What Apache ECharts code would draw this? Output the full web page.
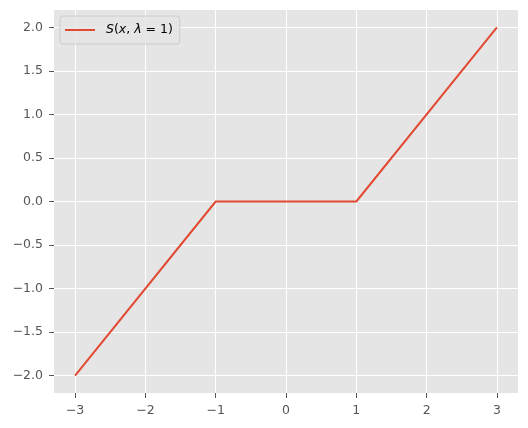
<!DOCTYPE html>
<html>
<head>
<meta charset="utf-8">
<script src="https://cdn.jsdelivr.net/npm/echarts@6/dist/echarts.min.js"></script>
<style>html,body{margin:0;padding:0;background:#fff;}#c{width:528px;height:428px;}</style>
</head>
<body>
<div id="c"></div>
<script>
const xValues = [-3, -1, 1, 3];
const yValues = [-2, 0, 0, 2];
const xTicks = [-3, -2, -1, 0, 1, 2, 3];
const yTicks = [-2.0, -1.5, -1.0, -0.5, 0.0, 0.5, 1.0, 1.5, 2.0];
const seriesName = 'S(x, λ = 1)';

const fmt = (v, d) => {
  const s = Number(v).toFixed(d);
  return s.startsWith('-') ? '\u2212' + s.slice(1) : s;
};

const chart = echarts.init(document.getElementById('c'), null, {renderer: 'canvas'});
const axisCommon = {
  axisLine: {show: false, onZero: false},
  axisTick: {show: true, length: 5, lineStyle: {color: '#555555', width: 1}},
  splitLine: {show: true, lineStyle: {color: '#ffffff', width: 1}},
  axisLabel: {color: '#555555', fontFamily: 'DejaVu Sans', fontSize: 12.5, margin: 11}
};
chart.setOption({
  animation: false,
  backgroundColor: '#ffffff',
  grid: {left: 54, right: 10, top: 10, bottom: 35, show: true, backgroundColor: '#E5E5E5', borderWidth: 0},
  xAxis: {
    type: 'value', min: -3.3, max: 3.3,
    ...axisCommon,
    axisTick: {...axisCommon.axisTick, customValues: xTicks},
    axisLabel: {...axisCommon.axisLabel, customValues: xTicks, formatter: v => fmt(v, 0)}
  },
  yAxis: {
    type: 'value', min: -2.2, max: 2.2,
    ...axisCommon,
    axisTick: {...axisCommon.axisTick, customValues: yTicks},
    axisLabel: {...axisCommon.axisLabel, customValues: yTicks, formatter: v => fmt(v, 1)}
  },
  legend: {
    left: 60, top: 16,
    orient: 'vertical',
    padding: [7, 7, 7, 5],
    backgroundColor: 'rgba(229,229,229,0.8)',
    borderColor: '#CCCCCC', borderWidth: 1, borderRadius: 3,
    itemWidth: 30, itemHeight: 2,
    data: [{name: seriesName, icon: 'rect'}],
    formatter: () => '{i|S}({i|x}, {i|λ} = 1)',
    textStyle: {
      color: '#000000', fontFamily: 'DejaVu Sans', fontSize: 12.5, lineHeight: 14, padding: [0, 0, 0, 6],
      rich: {i: {fontStyle: 'italic', fontFamily: 'DejaVu Sans', fontSize: 12.5, color: '#000000'}}
    }
  },
  series: [{
    name: seriesName,
    type: 'line',
    data: xValues.map((x, i) => [x, yValues[i]]),
    symbol: 'none',
    lineStyle: {color: '#E24A33', width: 2},
    itemStyle: {color: '#E24A33'}
  }]
});
</script>
</body>
</html>
